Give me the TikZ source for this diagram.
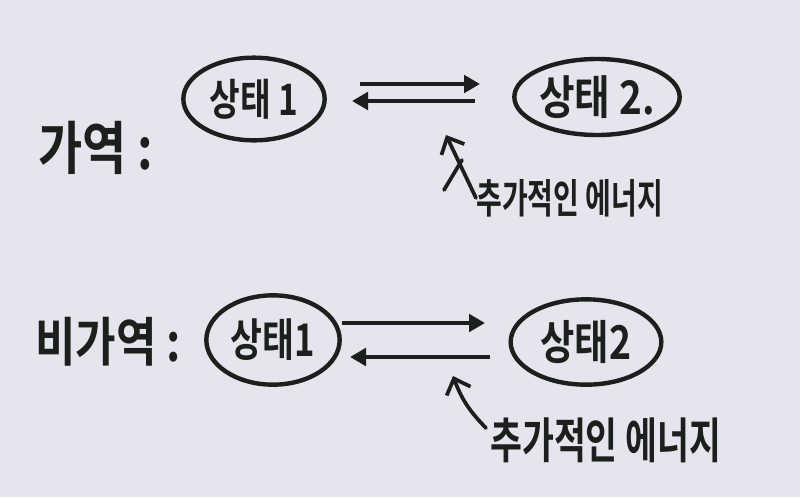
\documentclass[tikz,border=0pt]{standalone}
\usepackage{fontspec}
\newfontfamily\kr{Noto Sans CJK KR}[BoldFont={Noto Sans CJK KR Bold}]
\usetikzlibrary{shapes.geometric,arrows.meta}
\definecolor{paper}{RGB}{230,228,237}
\definecolor{ink}{RGB}{28,32,28}
\begin{document}
\begin{tikzpicture}[x=0.75pt,y=-0.75pt,
  state/.style={ellipse, draw=ink, line width=3.3pt, inner sep=0pt, text=ink},
  flow/.style={draw=ink, line width=3.3pt, -{Triangle[length=12pt,width=13pt]}},
  energy/.style={draw=ink, line width=2.8pt, line cap=round, -{Straight Barb[length=10pt,width=19pt]}},
  lbl/.style={text=ink, anchor=west, inner sep=0pt}]
\fill[paper] (0,0) rectangle (800,497);
\useasboundingbox (0,0) rectangle (800,497);

% reversible
\node[lbl, font=\kr\bfseries\fontsize{36}{36}\selectfont] (rev) at (38,148) {\scalebox{1}[1.2]{가역 :}};
\node[state, minimum width=106pt, minimum height=62pt, font=\kr\bfseries\fontsize{25}{25}\selectfont] (s1) at (254,99) {\scalebox{1}[1.3]{상태 1}};
\node[state, minimum width=124pt, minimum height=57pt, font=\kr\bfseries\fontsize{29}{29}\selectfont] (s2) at (597,97) {\scalebox{1}[1.2]{상태 2.}};
\coordinate (a1) at (360,84);
\coordinate (a2) at (480,84);
\coordinate (b1) at (475,101);
\coordinate (b2) at (352,101);
\draw[flow] (a1) -- (a2);
\draw[flow] (b1) -- (b2);
\node[lbl, font=\kr\bfseries\fontsize{21}{21}\selectfont] (e1) at (476,198) {\scalebox{1}[1.45]{추가적인 에너지}};
\coordinate (t1) at (446,135);
\draw[energy] (e1.west) -- (t1);
\draw[ink, line width=2.8pt, line cap=round] (444,190) -- (462,160);

% irreversible
\node[lbl, font=\kr\bfseries\fontsize{33}{33}\selectfont] (irr) at (35,342) {\scalebox{1}[1.2]{비가역 :}};
\node[state, minimum width=100pt, minimum height=67pt, font=\kr\bfseries\fontsize{26}{26}\selectfont] (s3) at (273,340) {\scalebox{1}[1.3]{상태1}};
\node[state, minimum width=113pt, minimum height=64pt, font=\kr\bfseries\fontsize{28}{28}\selectfont] (s4) at (586,342) {\scalebox{1}[1.25]{상태2}};
\coordinate (c1) at (342,323);
\coordinate (c2) at (485,323);
\coordinate (d1) at (490,357);
\coordinate (d2) at (350,357);
\draw[flow] (c1) -- (c2);
\draw[flow] (d1) -- (d2);
\node[lbl, font=\kr\bfseries\fontsize{26}{26}\selectfont] (e2) at (490,440) {\scalebox{1}[1.4]{추가적인 에너지}};
\coordinate (t2) at (453,376);
\draw[energy] (486,428) to[bend left=12] (t2);
\end{tikzpicture}
\end{document}
